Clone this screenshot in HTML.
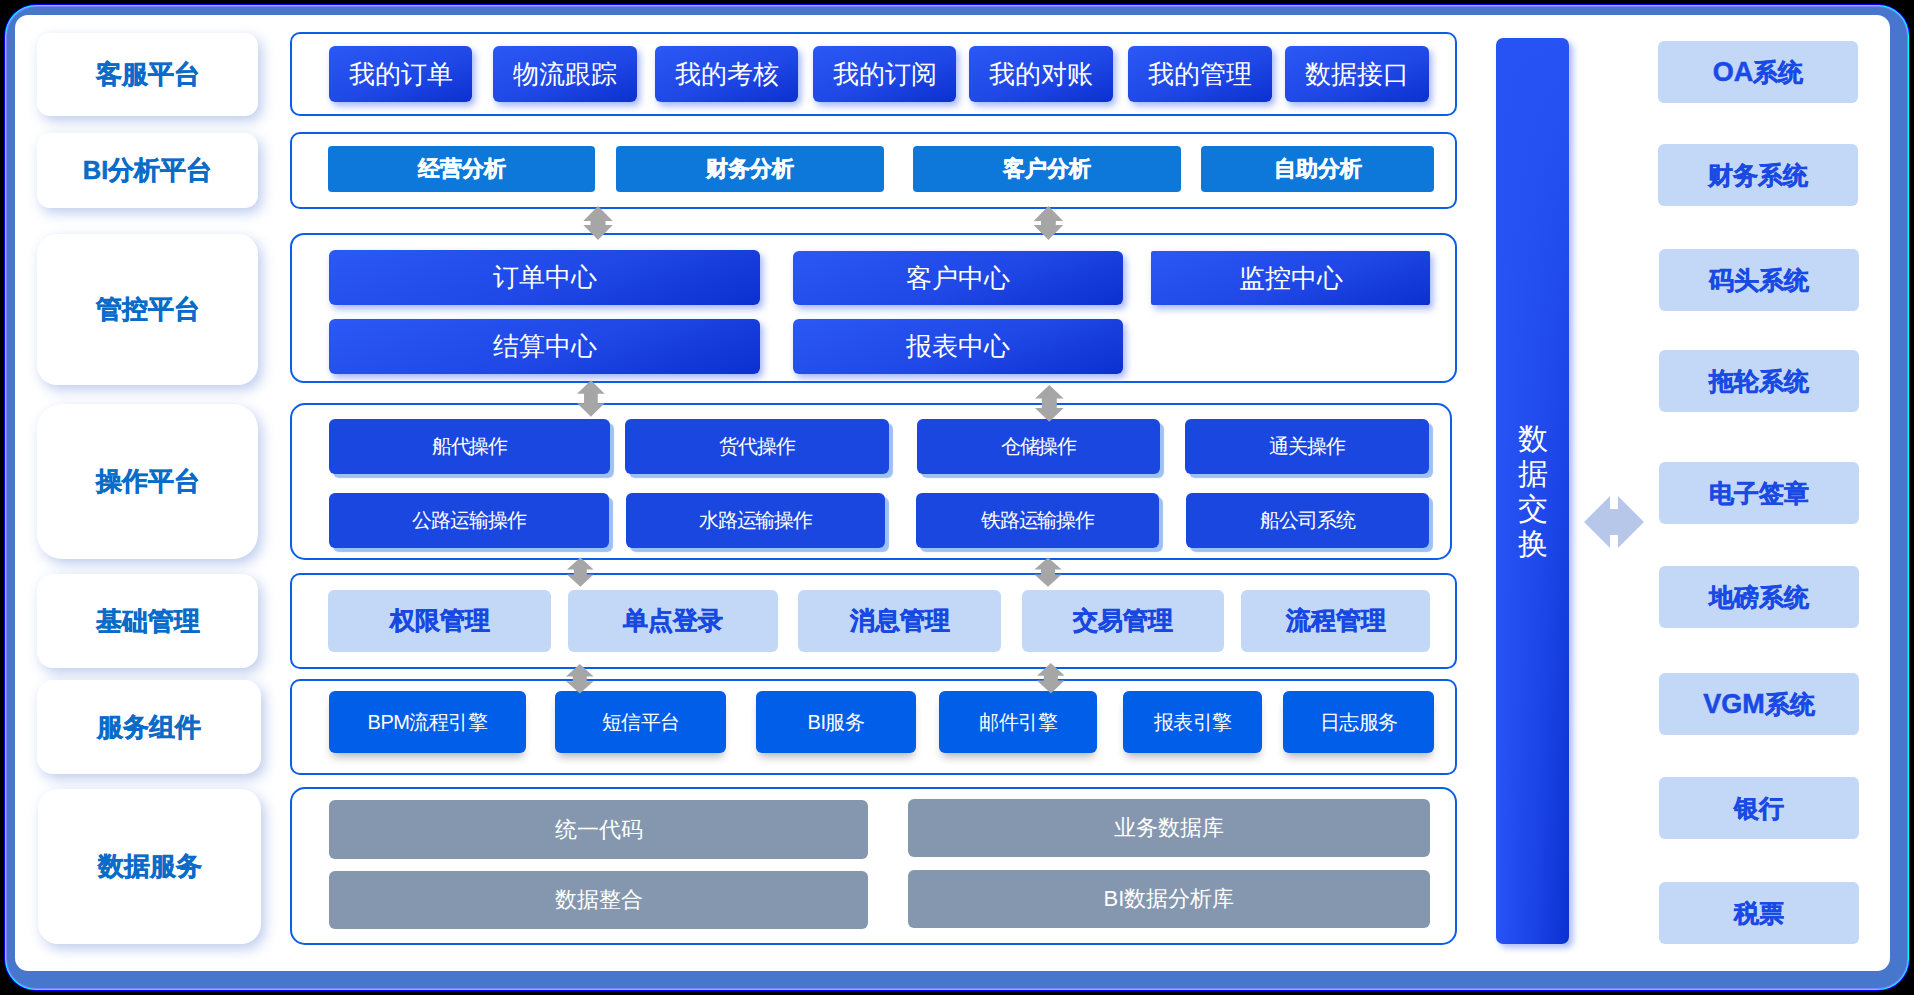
<!DOCTYPE html><html><head><meta charset="utf-8"><style>
*{margin:0;padding:0;box-sizing:border-box}
html,body{width:1914px;height:995px;overflow:hidden;background:#000;font-family:"Liberation Sans",sans-serif}
.sk{-webkit-text-stroke:.5px currentColor}
.a{position:absolute;display:flex;align-items:center;justify-content:center;white-space:nowrap}
.lbl{background:#fff;box-shadow:4px 5px 13px rgba(50,95,200,.32);color:#0a6cc8;font-weight:bold;font-size:25.5px}
.ctr{border:2px solid #0a5fe6;border-radius:10px}
.g{background:linear-gradient(160deg,#2b58f6 0%,#1f48e6 55%,#0b30cf 100%);color:#fff;font-size:26px;border-radius:6px;box-shadow:3px 4px 7px rgba(50,90,245,.45)}
.bi{background:#0d77da;color:#fff;font-weight:bold;font-size:22px;border-radius:4px}
.op{background:#1a47e0;color:#fff;font-size:20px;border-radius:6px;box-shadow:4px 4px 1px #9dc1f5;letter-spacing:-1.1px}
.lt{background:#c3d8f6;color:#1848e2;font-weight:bold;font-size:25px;border-radius:6px;padding-bottom:2px}
.sv{background:#005ee8;color:#fff;font-size:20px;letter-spacing:-0.5px;border-radius:6px;box-shadow:0 7px 9px -3px rgba(30,30,40,.32)}
.gr{background:#8597ae;color:#fff;font-size:22px;border-radius:6px}
.rt{background:#c3d8f6;color:#1a4ae4;font-weight:bold;font-size:25px;border-radius:6px}
</style></head><body><div class="a" style="left:4px;top:4px;width:1906px;height:987px;border-radius:32px;background:#0000ff"></div>
<div class="a" style="left:5px;top:5px;width:1904px;height:985px;border-radius:31px;background:#00ffff"></div>
<div class="a" style="left:6px;top:6px;width:1902px;height:983px;border-radius:30px;background:#8080ff"></div>
<div class="a" style="left:7px;top:7px;width:1900px;height:981px;border-radius:29px;background:#4677cc"></div>
<div class="a" style="left:15px;top:15px;width:1875px;height:956px;border-radius:13px;background:#fff"></div>
<div class="a lbl sk" style="left:37px;top:33px;width:221px;height:83px;border-radius:13px">客服平台</div>
<div class="a lbl sk" style="left:37px;top:133px;width:221px;height:75px;border-radius:13px">BI分析平台</div>
<div class="a lbl sk" style="left:37px;top:234px;width:221px;height:151px;border-radius:20px">管控平台</div>
<div class="a lbl sk" style="left:37px;top:404px;width:221px;height:155px;border-radius:25px">操作平台</div>
<div class="a lbl sk" style="left:37px;top:574px;width:221px;height:94px;border-radius:16px">基础管理</div>
<div class="a lbl sk" style="left:37px;top:680px;width:224px;height:94px;border-radius:16px">服务组件</div>
<div class="a lbl sk" style="left:38px;top:789px;width:223px;height:155px;border-radius:20px">数据服务</div>
<div class="a ctr" style="left:290px;top:32px;width:1167px;height:84px;border-radius:10px"></div>
<div class="a ctr" style="left:290px;top:132px;width:1167px;height:77px;border-radius:10px"></div>
<div class="a ctr" style="left:290px;top:233px;width:1167px;height:150px;border-radius:14px"></div>
<div class="a ctr" style="left:290px;top:403px;width:1162px;height:157px;border-radius:15px"></div>
<div class="a ctr" style="left:290px;top:573px;width:1167px;height:96px;border-radius:10px"></div>
<div class="a ctr" style="left:290px;top:679px;width:1167px;height:96px;border-radius:10px"></div>
<div class="a ctr" style="left:290px;top:787px;width:1167px;height:158px;border-radius:15px"></div>
<div class="a g" style="left:329px;top:46px;width:143px;height:56px;">我的订单</div>
<div class="a g" style="left:493px;top:46px;width:144px;height:56px;">物流跟踪</div>
<div class="a g" style="left:655px;top:46px;width:143px;height:56px;">我的考核</div>
<div class="a g" style="left:813px;top:46px;width:143px;height:56px;">我的订阅</div>
<div class="a g" style="left:969px;top:46px;width:144px;height:56px;">我的对账</div>
<div class="a g" style="left:1128px;top:46px;width:144px;height:56px;">我的管理</div>
<div class="a g" style="left:1285px;top:46px;width:144px;height:56px;">数据接口</div>
<div class="a bi sk" style="left:328px;top:146px;width:267px;height:46px;">经营分析</div>
<div class="a bi sk" style="left:616px;top:146px;width:268px;height:46px;">财务分析</div>
<div class="a bi sk" style="left:913px;top:146px;width:268px;height:46px;">客户分析</div>
<div class="a bi sk" style="left:1201px;top:146px;width:233px;height:46px;">自助分析</div>
<div class="a g" style="left:329px;top:250px;width:431px;height:55px;">订单中心</div>
<div class="a g" style="left:793px;top:251px;width:330px;height:54px;">客户中心</div>
<div class="a g" style="left:1151px;top:251px;width:279px;height:54px;border-radius:2px">监控中心</div>
<div class="a g" style="left:329px;top:319px;width:431px;height:55px;">结算中心</div>
<div class="a g" style="left:793px;top:319px;width:330px;height:55px;">报表中心</div>
<div class="a op" style="left:329px;top:419px;width:281px;height:55px;">船代操作</div>
<div class="a op" style="left:625px;top:419px;width:264px;height:55px;">货代操作</div>
<div class="a op" style="left:917px;top:419px;width:243px;height:55px;">仓储操作</div>
<div class="a op" style="left:1185px;top:419px;width:244px;height:55px;">通关操作</div>
<div class="a op" style="left:329px;top:493px;width:280px;height:55px;">公路运输操作</div>
<div class="a op" style="left:626px;top:493px;width:259px;height:55px;">水路运输操作</div>
<div class="a op" style="left:916px;top:493px;width:243px;height:55px;">铁路运输操作</div>
<div class="a op" style="left:1186px;top:493px;width:243px;height:55px;">船公司系统</div>
<div class="a lt sk" style="left:328px;top:590px;width:223px;height:62px;">权限管理</div>
<div class="a lt sk" style="left:568px;top:590px;width:210px;height:62px;">单点登录</div>
<div class="a lt sk" style="left:798px;top:590px;width:203px;height:62px;">消息管理</div>
<div class="a lt sk" style="left:1022px;top:590px;width:202px;height:62px;">交易管理</div>
<div class="a lt sk" style="left:1241px;top:590px;width:189px;height:62px;">流程管理</div>
<div class="a sv" style="left:329px;top:691px;width:197px;height:62px;">BPM流程引擎</div>
<div class="a sv" style="left:555px;top:691px;width:171px;height:62px;">短信平台</div>
<div class="a sv" style="left:756px;top:691px;width:160px;height:62px;">BI服务</div>
<div class="a sv" style="left:939px;top:691px;width:158px;height:62px;">邮件引擎</div>
<div class="a sv" style="left:1123px;top:691px;width:139px;height:62px;">报表引擎</div>
<div class="a sv" style="left:1283px;top:691px;width:151px;height:62px;">日志服务</div>
<div class="a gr" style="left:329px;top:800px;width:539px;height:59px;">统一代码</div>
<div class="a gr" style="left:329px;top:871px;width:539px;height:58px;">数据整合</div>
<div class="a gr" style="left:908px;top:799px;width:522px;height:58px;">业务数据库</div>
<div class="a gr" style="left:908px;top:870px;width:522px;height:58px;">BI数据分析库</div>
<div class="a" style="left:1496px;top:38px;width:73px;height:906px;border-radius:7px;background:linear-gradient(180deg,#2753f4 0%,rgba(39,83,244,0) 100%),linear-gradient(90deg,#2853f6,#1a42e4 55%,#0a30d0);box-shadow:4px 4px 6px rgba(60,100,250,.42);color:#fff;font-size:30px;line-height:35px;white-space:normal;text-align:center"><div style="width:31px">数据交换</div></div>
<div class="a rt sk" style="left:1658px;top:41px;width:200px;height:62px;"><span style="font-size:27px">OA</span>系统</div>
<div class="a rt sk" style="left:1658px;top:144px;width:200px;height:62px;">财务系统</div>
<div class="a rt sk" style="left:1659px;top:249px;width:200px;height:62px;">码头系统</div>
<div class="a rt sk" style="left:1659px;top:350px;width:200px;height:62px;">拖轮系统</div>
<div class="a rt sk" style="left:1659px;top:462px;width:200px;height:62px;">电子签章</div>
<div class="a rt sk" style="left:1659px;top:566px;width:200px;height:62px;">地磅系统</div>
<div class="a rt sk" style="left:1659px;top:673px;width:200px;height:62px;"><span style="font-size:27px">VGM</span>系统</div>
<div class="a rt sk" style="left:1659px;top:777px;width:200px;height:62px;">银行</div>
<div class="a rt sk" style="left:1659px;top:882px;width:200px;height:62px;">税票</div>
<svg class="a" style="left:0;top:0;display:block" width="1914" height="995" viewBox="0 0 1914 995"><g fill="#a6a6a6"><polygon points="598,206 612.75,221 605.5,221 605.5,225 612.75,225 598,240 583.25,225 590.5,225 590.5,221 583.25,221"/><polygon points="1048.4,206 1063.15,221 1055.8000000000002,221 1055.8000000000002,225 1063.15,225 1048.4,240 1033.65,225 1041.0,225 1041.0,221 1033.65,221"/><polygon points="590.9,380.2 604.65,393.8 597.75,393.8 597.75,403.2 604.65,403.2 590.9,416.7 577.15,403.2 584.05,403.2 584.05,393.8 577.15,393.8"/><polygon points="1049.3,385 1063.6,398.6 1056.8,398.6 1056.8,408 1063.6,408 1049.3,421.8 1035.0,408 1041.8,408 1041.8,398.6 1035.0,398.6"/><polygon points="580.3,557.5 593.5999999999999,569.5 586.8,569.5 586.8,574.4 593.5999999999999,574.4 580.3,586.7 567.0,574.4 573.8,574.4 573.8,569.5 567.0,569.5"/><polygon points="1048,557.5 1061.65,569.5 1055,569.5 1055,574.4 1061.65,574.4 1048,586.7 1034.35,574.4 1041,574.4 1041,569.5 1034.35,569.5"/><polygon points="579.8,664.1 593.5999999999999,676.6 586.8,676.6 586.8,681.3 593.5999999999999,681.3 579.8,693.6 566.0,681.3 572.8,681.3 572.8,676.6 566.0,676.6"/><polygon points="1050.8,663 1064.55,675.7 1057.8,675.7 1057.8,680.4 1064.55,680.4 1050.8,693.6 1037.05,680.4 1043.8,680.4 1043.8,675.7 1037.05,675.7"/></g><polygon fill="#b7c7e9" points="1584,522 1610,496 1610,509 1618,509 1618,496 1644,522 1618,548 1618,535 1610,535 1610,548"/></svg></body></html>
